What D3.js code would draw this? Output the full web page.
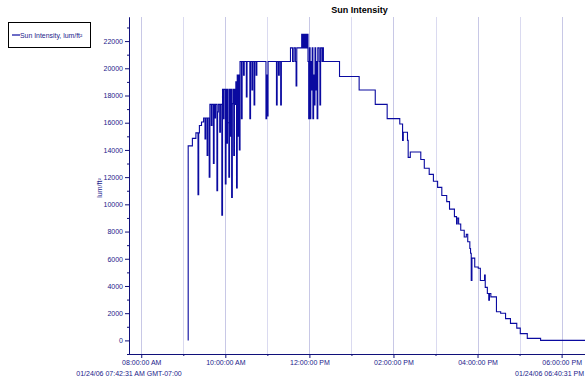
<!DOCTYPE html>
<html>
<head>
<meta charset="utf-8">
<script src="https://d3js.org/d3.v7.min.js"></script>
<style>
  body { margin: 0; background: #fff; }
  svg { display: block; font-family: "Liberation Sans", Arial, sans-serif; }
  .tick text { fill: #1a1a8a; font-size: 7px; }
</style>
</head>
<body>
<div id="chart"></div>
<script>
// data (local time, 01/24/06)
let seriesName = 'Sun Intensity, lum/ft\u00b2';
let startTime = '07:42:31';
let endTime = '18:40:31';
let times = [
  '09:07','09:07','09:13','09:18','09:21','09:22','09:23','09:26','09:29','09:31',
  '09:32','09:34','09:35','09:37','09:38','09:40','09:41','09:43','09:44','09:45',
  '09:46','09:48','09:49','09:50','09:52','09:53','09:55','09:56','09:57','09:58',
  '10:00','10:01','10:02','10:03','10:04','10:05','10:06','10:07','10:08','10:09',
  '10:10','10:11','10:12','10:13','10:14','10:15','10:16','10:17','10:18','10:19',
  '10:20','10:21','10:23','10:24','10:26','10:27','10:30','10:31','10:35','10:36',
  '10:38','10:39','10:41','10:42','10:44','10:45','10:58','10:59','11:00','11:01',
  '11:13','11:14','11:16','11:17','11:19','11:20','11:33','11:36','11:38','11:40',
  '11:41','11:42','11:49','11:50','11:51','11:52','11:53','11:54','11:55','11:56',
  '11:57','11:58','11:59','12:00','12:01','12:02','12:03','12:04','12:05','12:06',
  '12:07','12:08','12:09','12:10','12:11','12:12','12:14','12:15','12:16','12:18',
  '12:19','12:20','12:43','13:11','13:34','13:51','14:09','14:13','14:14','14:16',
  '14:20','14:21','14:24','14:39','14:44','14:51','14:57','15:03','15:09','15:16',
  '15:20','15:27','15:30','15:31','15:33','15:36','15:41','15:44','15:46','15:49',
  '15:50','15:51','15:52','15:54','15:56','16:01','16:04','16:10','16:11','16:14',
  '16:16','16:17','16:19','16:27','16:33','16:40','16:47','16:56','17:01','17:11',
  '17:30','18:40'
];
let values = [
  0,14300,14850,15250,10700,15250,15800,16050,16350,14800,
  16350,13600,16350,12000,17350,15800,17350,13000,17350,16350,
  17350,11000,16800,17350,15300,17350,9200,18450,16300,18450,
  11500,18450,14500,18450,16000,12000,18450,15000,18450,10500,
  17400,18450,13600,18450,17350,19000,11200,19500,15000,19500,
  14000,20500,16300,20500,19500,20500,17900,20500,16300,20500,
  18400,20500,17300,20500,19500,20500,16300,19500,16500,20500,
  17300,20500,19500,20500,17300,20500,21500,20500,21500,20500,
  18700,21500,22500,21500,22500,21500,22500,21500,22500,21500,
  22500,20500,16300,21500,16300,20500,18400,21500,16300,19500,
  17300,21500,18400,20500,16300,21500,20500,17300,21500,20500,
  21500,20500,19400,18400,17350,16300,15900,14700,15300,15300,
  14700,13450,13850,13300,12650,12200,11700,11250,10650,10200,
  9650,9100,8550,9000,8550,8100,7600,7800,7250,6750,
  6400,4400,6050,6050,5400,5300,4400,4800,3900,3450,
  2950,3450,3200,2100,2000,1600,1250,900,500,150,
  0,0
];
let yTicks = [0,2000,4000,6000,8000,10000,12000,14000,16000,18000,20000,22000];
let yMinor = [-1000,1000,3000,5000,7000,9000,11000,13000,15000,17000,19000,21000,23000];
let xTicks = ['08:00','10:00','12:00','14:00','16:00','18:00'];
let xMinor = ['09:00','11:00','13:00','15:00','17:00'];
let startLabel = '01/24/06 07:42:31 AM GMT-07:00';
let endLabel = '01/24/06 06:40:31 PM';

let config = {
  svg: { width: 585, height: 381 },
  plot: { left: 129, right: 590, top: 17, bottom: 354 }
};

let parseHM = d3.timeParse('%H:%M');
let parseHMS = d3.timeParse('%H:%M:%S');
let data = times.map((t, i) => ({ t: parseHM(t), v: values[i] }));

let svg = d3.select('#chart').append('svg')
    .attr('width', config.svg.width)
    .attr('height', config.svg.height);

let x = d3.scaleTime()
    .domain([parseHMS(startTime), parseHMS(endTime)])
    .range([config.plot.left, config.plot.right]);
let y = d3.scaleLinear()
    .domain([-1000, 23770])
    .range([config.plot.bottom, config.plot.top]);

// vertical grid lines every hour
let grid = xTicks.concat(xMinor).map(parseHM);
svg.append('g').selectAll('line')
    .data(grid)
    .enter().append('line')
        .attr('x1', (d) => Math.round(x(d)) + 0.5)
        .attr('x2', (d) => Math.round(x(d)) + 0.5)
        .attr('y1', config.plot.top)
        .attr('y2', config.plot.bottom)
        .style('stroke', (d) => d.getHours() % 2 ? '#dadaf0' : '#c8c8e6')
        .style('stroke-width', 1);

// title
svg.append('text')
    .attr('x', (config.plot.left + config.plot.right) / 2)
    .attr('y', 13)
    .style('text-anchor', 'middle')
    .style('font-size', '9px')
    .style('font-weight', 'bold')
    .text('Sun Intensity');

// y axis
svg.append('g')
    .attr('transform', translate(config.plot.left, 0))
    .call(d3.axisLeft(y).tickValues(yTicks).tickSize(4).tickPadding(2)
        .tickFormat(d3.format('d')).tickSizeOuter(0));
svg.append('g')
    .attr('transform', translate(config.plot.left, 0))
    .call(d3.axisLeft(y).tickValues(yMinor).tickSize(2).tickFormat('').tickSizeOuter(0));

// x axis
svg.append('g')
    .attr('transform', translate(0, config.plot.bottom))
    .call(d3.axisBottom(x).tickValues(xTicks.map(parseHM)).tickSize(4).tickPadding(2)
        .tickFormat(d3.timeFormat('%I:%M:%S %p')).tickSizeOuter(0));
svg.append('g')
    .attr('transform', translate(0, config.plot.bottom))
    .call(d3.axisBottom(x).tickValues(xMinor.map(parseHM)).tickSize(2).tickFormat('').tickSizeOuter(0));

svg.selectAll('.domain, .tick line').style('stroke', '#10107a');

// start / end labels
svg.append('text')
    .attr('x', config.plot.left)
    .attr('y', 376)
    .style('text-anchor', 'middle')
    .style('font-size', '7px')
    .style('fill', '#1a1a8a')
    .text(startLabel);
svg.append('text')
    .attr('x', 584)
    .attr('y', 376)
    .style('text-anchor', 'end')
    .style('font-size', '7px')
    .style('fill', '#1a1a8a')
    .text(endLabel);

// y axis title
svg.append('text')
    .attr('transform', translate(102, 188) + ' rotate(-90)')
    .style('text-anchor', 'middle')
    .style('font-size', '7px')
    .style('fill', '#1a1a8a')
    .text('lum/ft\u00b2');

// series line
let line = d3.line()
    .x((d) => x(d.t))
    .y((d) => y(d.v))
    .curve(d3.curveStepAfter);
svg.append('path')
    .datum(data)
    .attr('d', line)
    .style('fill', 'none')
    .style('stroke', '#0a0aa0')
    .style('stroke-width', 1.1);

// legend
svg.append('rect')
    .attr('x', 8.5).attr('y', 22.5)
    .attr('width', 82).attr('height', 25)
    .style('fill', '#fff')
    .style('stroke', '#000');
svg.append('line')
    .attr('x1', 12).attr('x2', 20)
    .attr('y1', 35).attr('y2', 35)
    .style('stroke', '#0a0aa0')
    .style('stroke-width', 1.2);
svg.append('text')
    .attr('x', 20).attr('y', 37.5)
    .style('font-size', '6.9px')
    .style('fill', '#1a1a8a')
    .text(seriesName);

// helper method to make translating easier
function translate(x, y) {
    return 'translate(' + x + ',' + y + ')';
}
</script>
</body>
</html>
